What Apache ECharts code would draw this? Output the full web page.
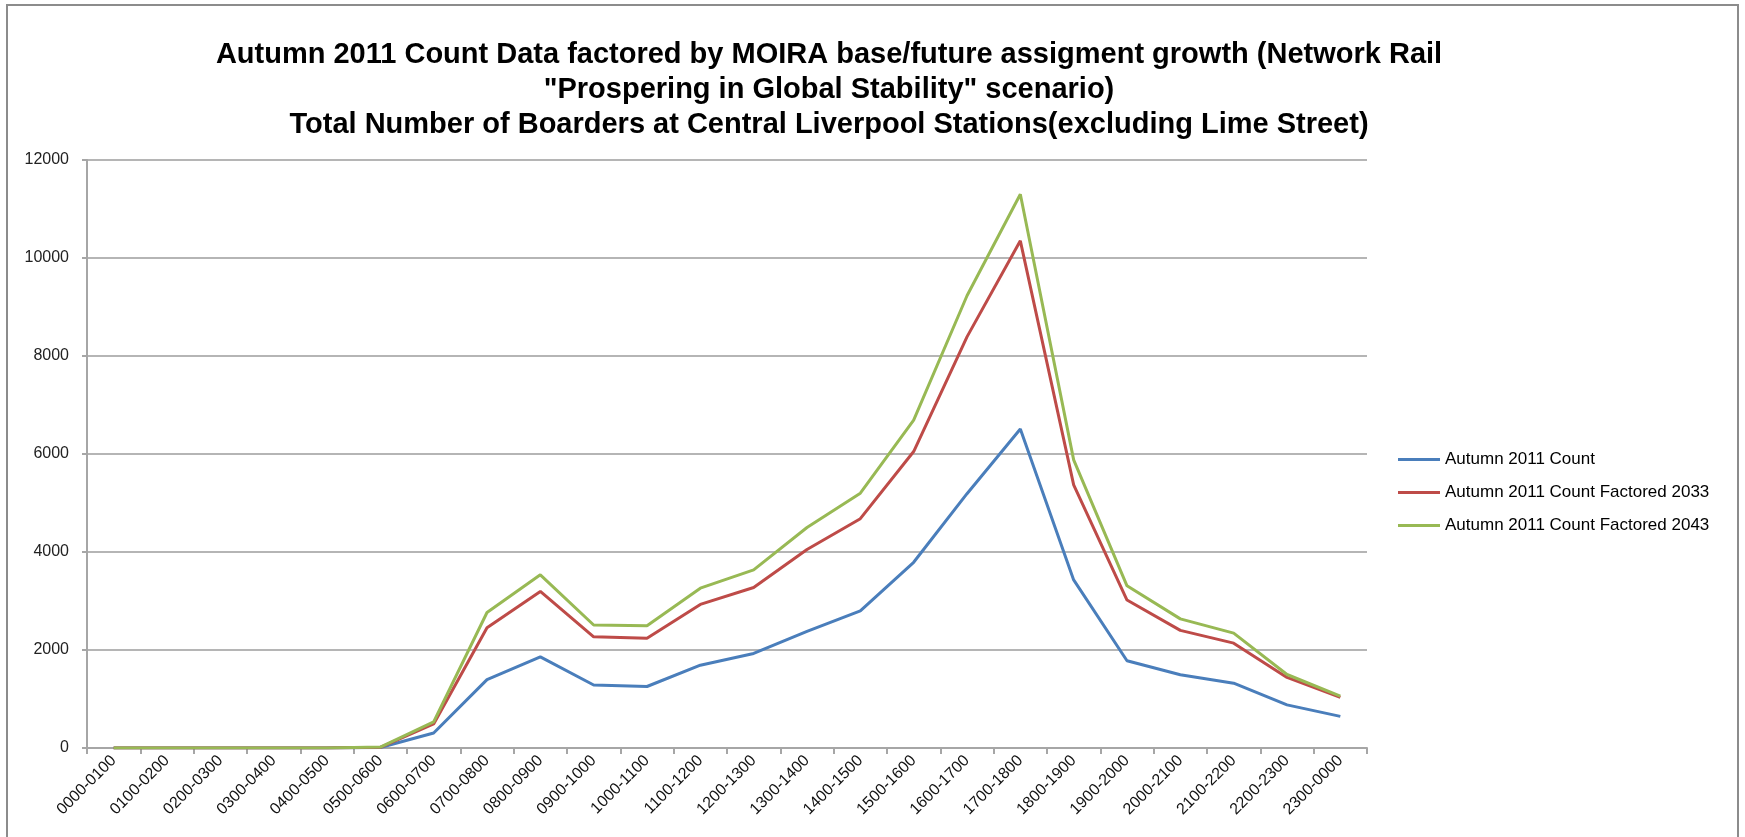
<!DOCTYPE html>
<html lang="en">

<head>
    <meta charset="UTF-8">
    <title>Central Liverpool Boarders</title>
    <script src="https://cdnjs.cloudflare.com/ajax/libs/echarts/6.0.0/echarts.min.js"></script>
    <style>
        html, body { margin: 0; padding: 0; background: #fff; }
        #main { width: 1745px; height: 837px; }
    </style>
</head>

<body>
    <div id="main"></div>
    <script>
        // hour bands
        const hours = ["0000-0100", "0100-0200", "0200-0300", "0300-0400", "0400-0500", "0500-0600",
            "0600-0700", "0700-0800", "0800-0900", "0900-1000", "1000-1100", "1100-1200",
            "1200-1300", "1300-1400", "1400-1500", "1500-1600", "1600-1700", "1700-1800",
            "1800-1900", "1900-2000", "2000-2100", "2100-2200", "2200-2300", "2300-0000"];

        const count2011 = [0, 0, 0, 0, 0, 10, 305, 1395, 1860, 1285, 1255, 1690, 1930, 2380, 2800, 3790,
            5190, 6510, 3430, 1780, 1495, 1322, 880, 645];
        const factored2033 = [0, 0, 0, 0, 0, 15, 490, 2455, 3195, 2270, 2240, 2930, 3275, 4050, 4680, 6050,
            8390, 10350, 5370, 3020, 2400, 2140, 1440, 1035];
        const factored2043 = [0, 0, 0, 0, 0, 18, 535, 2765, 3535, 2510, 2495, 3262, 3635, 4500, 5200, 6690,
            9230, 11300, 5880, 3310, 2635, 2345, 1500, 1060];

        const yTicks = [0, 2000, 4000, 6000, 8000, 10000, 12000];

        const names = ["Autumn 2011 Count", "Autumn 2011 Count Factored 2033", "Autumn 2011 Count Factored 2043"];
        const colors = ["#4A7EBB", "#BE4B48", "#98B954"];

        const chart = echarts.init(document.getElementById('main'));

        function line(name, data, color) {
            return {
                name: name,
                type: 'line',
                data: data,
                symbol: 'none',
                color: color,
                lineStyle: { color: color, width: 3 },
                animation: false
            };
        }

        let option = {
            backgroundColor: '#fff',
            title: {
                text: "Autumn 2011 Count Data factored by MOIRA base/future assigment growth (Network Rail\n\"Prospering in Global Stability\" scenario)\nTotal Number of Boarders at Central Liverpool Stations(excluding Lime Street)",
                left: 824,
                top: 32,
                textAlign: 'center',
                textStyle: {
                    fontFamily: '"Liberation Sans", Arial, sans-serif',
                    fontWeight: 'bold',
                    fontSize: 29,
                    lineHeight: 35,
                    color: '#000'
                }
            },
            legend: {
                orient: 'vertical',
                left: 1393,
                top: 446,
                itemWidth: 42,
                itemHeight: 3,
                itemGap: 16,
                icon: 'rect',
                data: names,
                textStyle: {
                    fontFamily: '"Liberation Sans", Arial, sans-serif',
                    fontSize: 17,
                    color: '#000'
                }
            },
            grid: {
                left: 87,
                right: 378,
                top: 160,
                bottom: 89,
                containLabel: false
            },
            xAxis: {
                type: 'category',
                data: hours,
                boundaryGap: true,
                axisLine: { lineStyle: { color: '#a6a6a6', width: 2 } },
                axisTick: { show: true, length: 6, lineStyle: { color: '#a6a6a6', width: 2 } },
                axisLabel: {
                    interval: 0,
                    rotate: 45,
                    margin: 10,
                    fontFamily: '"Liberation Sans", Arial, sans-serif',
                    fontSize: 16,
                    color: '#111'
                }
            },
            yAxis: {
                type: 'value',
                min: yTicks[0],
                max: yTicks[yTicks.length - 1],
                interval: 2000,
                axisLine: { show: true, lineStyle: { color: '#a6a6a6', width: 2 } },
                axisTick: { show: true, length: 5, lineStyle: { color: '#a6a6a6', width: 2 } },
                splitLine: { lineStyle: { color: '#b5b5b5', width: 2 } },
                axisLabel: {
                    margin: 18,
                    formatter: (v) => String(v),
                    fontFamily: '"Liberation Sans", Arial, sans-serif',
                    fontSize: 16,
                    color: '#222'
                }
            },
            graphic: [
                {
                    type: 'rect',
                    shape: { x: 7, y: 5, width: 1731, height: 850 },
                    style: { fill: null, stroke: '#8c8c8c', lineWidth: 2 },
                    silent: true
                }
            ],
            series: [
                line(names[0], count2011, colors[0]),
                line(names[1], factored2033, colors[1]),
                line(names[2], factored2043, colors[2])
            ]
        };

        chart.setOption(option);
    </script>
</body>

</html>
